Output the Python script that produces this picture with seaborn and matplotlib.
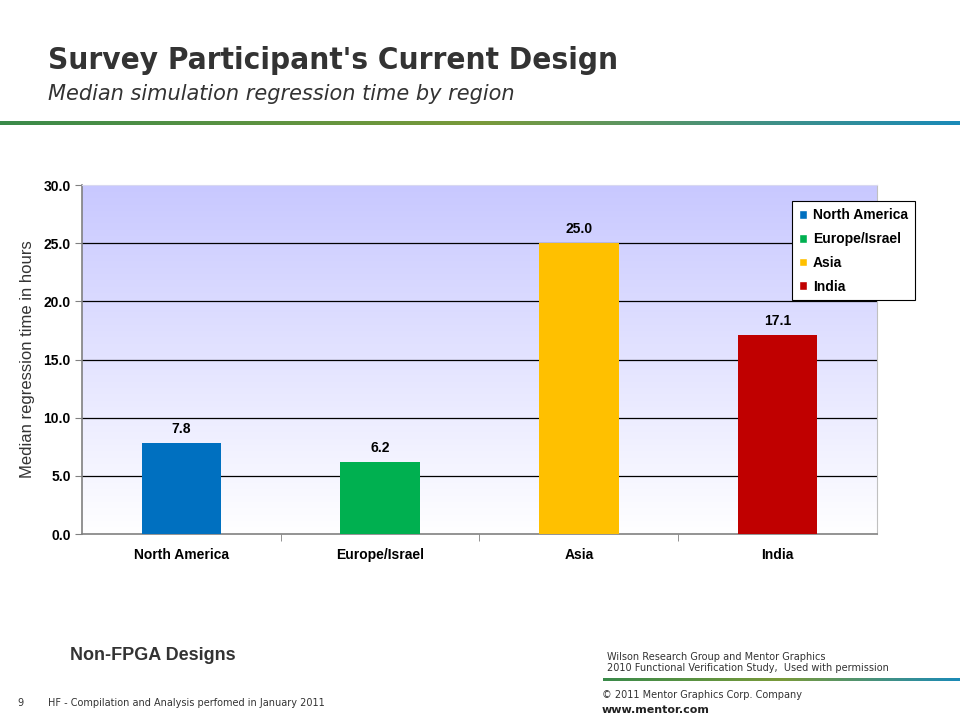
import numpy as np
import pandas as pd
import seaborn as sb
import matplotlib.pyplot as plt
from matplotlib.colors import LinearSegmentedColormap
from matplotlib.patches import Patch

regions = ['North America', 'Europe/Israel', 'Asia', 'India']
hours = [7.8, 6.2, 25.0, 17.1]
bar_colors = ['#0070C0', '#00B050', '#FFC000', '#C00000']
yticks = [0, 5, 10, 15, 20, 25, 30]

df = pd.DataFrame({'Region': regions, 'Hours': hours})

sb.set_style('white')
plt.rcParams['font.family'] = ['Liberation Sans', 'DejaVu Sans']
plt.rcParams['text.color'] = 'black'

fig = plt.figure(figsize=(9.6, 7.2), dpi=100)
ax = fig.add_axes([0.0854, 0.2583, 0.828, 0.4847])

# gradient background of the plot area
grad = LinearSegmentedColormap.from_list('bg', ['#ffffff', '#c8c8ff'])
ax.imshow(np.linspace(0, 1, 256).reshape(-1, 1), cmap=grad, origin='lower',
          aspect='auto', extent=[-0.5, 3.5, 0, 30], zorder=0)

sb.barplot(data=df, x='Region', y='Hours', hue='Region', palette=bar_colors,
           width=0.4, saturation=1, legend=False, ax=ax, zorder=3, linewidth=0)

ax.set_xlim(-0.5, 3.5)
ax.set_ylim(0, 30)
ax.set_yticks(yticks)
ax.set_yticklabels([f'{v:.1f}' for v in yticks], fontweight='bold', fontsize=10, color='black')
ax.set_xticks(range(len(regions)))
ax.set_xticklabels(regions, fontweight='bold', fontsize=10, color='black')
for v in yticks[1:-1]:
    ax.axhline(v, color='black', lw=0.9, zorder=1)
ax.set_xlabel('')
ax.set_ylabel('Median regression time in hours', fontsize=12, color='#333333', labelpad=6)
for s in ['left', 'bottom']:
    ax.spines[s].set_color('#808080')
    ax.spines[s].set_linewidth(1.2)
ax.spines['top'].set_color('#d8d8f0')
ax.spines['right'].set_color('#c0c0c0')
ax.tick_params(axis='y', length=5, color='#808080', left=True, pad=3)
ax.tick_params(axis='x', length=0, pad=10)
# category separators at bottom
ax.set_xticks([0.5, 1.5, 2.5], minor=True)
ax.tick_params(axis='x', which='minor', length=5, color='#808080', bottom=True)

for i, v in enumerate(hours):
    ax.text(i, v + 0.6, f'{v:.1f}', ha='center', va='bottom', fontweight='bold',
            fontsize=10, color='black')

handles = [Patch(facecolor=c, label=r) for c, r in zip(bar_colors, regions)]
leg = ax.legend(handles=handles, loc='upper left', bbox_to_anchor=(0.893, 0.953),
                frameon=True, fancybox=False, edgecolor='black', handlelength=0.6,
                handleheight=0.6, handletextpad=0.4, borderpad=0.5, labelspacing=0.7,
                borderaxespad=0, labelcolor='black', prop={'weight': 'bold', 'size': 10})
leg.get_frame().set_linewidth(0.8)
leg.get_frame().set_facecolor('white')
leg.get_frame().set_alpha(1)
leg.set_zorder(5)

# header text
fig.text(0.05, 0.916, "Survey Participant's Current Design", fontsize=22.5, fontweight='bold',
         color='#333333', family=['DejaVu Sans'], stretch='condensed', va='center')
fig.text(0.05, 0.87, 'Median simulation regression time by region', fontsize=15,
         style='italic', color='#333333', family=['DejaVu Sans'], va='center')

# gradient rules
line_cmap = LinearSegmentedColormap.from_list('rule', ['#3a8a4a', '#7a9a3a', '#1a8ab8'])
lax = fig.add_axes([0, 0.826, 1, 0.006])
lax.imshow(np.linspace(0, 1, 256).reshape(1, -1), cmap=line_cmap, aspect='auto')
lax.axis('off')
lax2 = fig.add_axes([0.628, 0.054, 0.372, 0.004])
lax2.imshow(np.linspace(0, 1, 256).reshape(1, -1), cmap=line_cmap, aspect='auto')
lax2.axis('off')

# footer text
fig.text(0.073, 0.083, 'Non-FPGA Designs', fontsize=13, fontweight='bold', color='#333333')
fig.text(0.632, 0.068, 'Wilson Research Group and Mentor Graphics\n2010 Functional Verification Study,  Used with permission',
         fontsize=7, color='#333333', family=['DejaVu Sans'], linespacing=1.15)
fig.text(0.018, 0.019, '9', fontsize=7, color='#333333', family=['DejaVu Sans'])
fig.text(0.05, 0.019, 'HF - Compilation and Analysis perfomed in January 2011', fontsize=7,
         color='#333333', family=['DejaVu Sans'])
fig.text(0.627, 0.031, '\u00a9 2011 Mentor Graphics Corp. Company', fontsize=7,
         color='#333333', family=['DejaVu Sans'])
fig.text(0.627, 0.01, 'www.mentor.com', fontsize=8, fontweight='bold',
         color='#222222', family=['DejaVu Sans'])

fig.savefig('out.png', dpi=100)
